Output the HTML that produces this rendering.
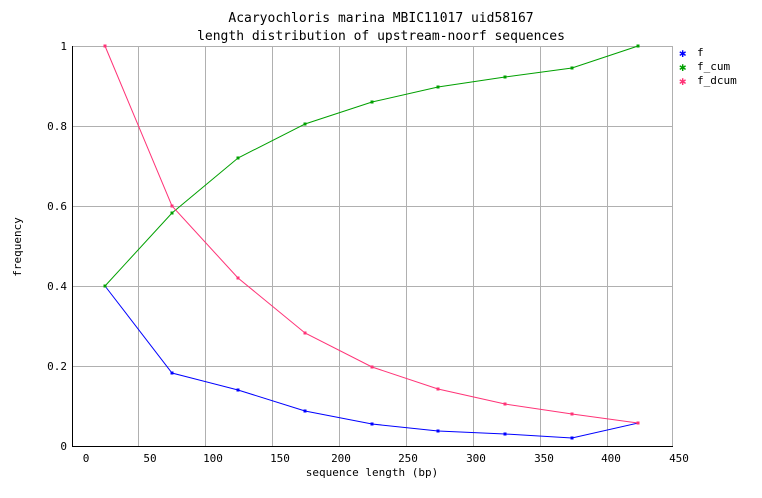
<!DOCTYPE html>
<html><head><style>
html,body{margin:0;padding:0;background:#fff;}
svg{display:block;}
text{font-family:"DejaVu Sans Mono","Liberation Mono",monospace;font-size:11px;fill:#000;}
</style></head><body>
<svg width="762" height="498" viewBox="0 0 762 498" xmlns="http://www.w3.org/2000/svg">
<rect width="762" height="498" fill="#fff"/>
<g stroke="#b0b0b0" stroke-width="1" shape-rendering="crispEdges">
<line x1="73" y1="46.5" x2="672" y2="46.5"/>
<line x1="73" y1="126.5" x2="672" y2="126.5"/>
<line x1="73" y1="206.5" x2="672" y2="206.5"/>
<line x1="73" y1="286.5" x2="672" y2="286.5"/>
<line x1="73" y1="366.5" x2="672" y2="366.5"/>
<line x1="138.5" y1="46" x2="138.5" y2="446"/>
<line x1="205.5" y1="46" x2="205.5" y2="446"/>
<line x1="272.5" y1="46" x2="272.5" y2="446"/>
<line x1="339.5" y1="46" x2="339.5" y2="446"/>
<line x1="406.5" y1="46" x2="406.5" y2="446"/>
<line x1="473.5" y1="46" x2="473.5" y2="446"/>
<line x1="540.5" y1="46" x2="540.5" y2="446"/>
<line x1="607.5" y1="46" x2="607.5" y2="446"/>
<line x1="672.5" y1="46" x2="672.5" y2="446"/>
</g>
<g stroke="#000" stroke-width="1" shape-rendering="crispEdges">
<line x1="72.5" y1="46" x2="72.5" y2="447"/>
<line x1="72" y1="446.5" x2="673" y2="446.5"/>
</g>
<g text-anchor="end">
<text x="67" y="50">1</text><text x="67" y="130">0.8</text><text x="67" y="210">0.6</text>
<text x="67" y="290">0.4</text><text x="67" y="370">0.2</text><text x="67" y="450">0</text>
</g>
<g text-anchor="middle">
<text x="86" y="462">0</text><text x="150" y="462">50</text><text x="213" y="462">100</text>
<text x="280" y="462">150</text><text x="341" y="462">200</text><text x="408" y="462">250</text>
<text x="476" y="462">300</text><text x="544" y="462">350</text><text x="611" y="462">400</text>
<text x="679" y="462">450</text>
<text x="372" y="476">sequence length (bp)</text>
<text x="381" y="22" style="font-size:13px">Acaryochloris marina MBIC11017 uid58167</text>
<text x="381" y="40" style="font-size:13px">length distribution of upstream-noorf sequences</text>
</g>
<text transform="translate(21,247) rotate(-90)" text-anchor="middle">frequency</text>
<g fill="none" stroke-width="1">
<polyline stroke="#0000ff" points="105,286 172,373 238,390 305,411 372,424 438,431 505,434 572,438 638,423"/>
<polyline stroke="#00a000" points="105,286 172,213 238,158 305,124 372,102 438,87 505,77 572,68 638,46"/>
<polyline stroke="#ff3377" points="105,46 172,206 238,278 305,333 372,367 438,389 505,404 572,414 638,423"/>
</g>
<g fill="#0000ff"><rect x="103.5" y="284.5" width="3" height="3"/><rect x="170.5" y="371.5" width="3" height="3"/><rect x="236.5" y="388.5" width="3" height="3"/><rect x="303.5" y="409.5" width="3" height="3"/><rect x="370.5" y="422.5" width="3" height="3"/><rect x="436.5" y="429.5" width="3" height="3"/><rect x="503.5" y="432.5" width="3" height="3"/><rect x="570.5" y="436.5" width="3" height="3"/></g>
<g fill="#00a000"><rect x="103.5" y="284.5" width="3" height="3"/><rect x="170.5" y="211.5" width="3" height="3"/><rect x="236.5" y="156.5" width="3" height="3"/><rect x="303.5" y="122.5" width="3" height="3"/><rect x="370.5" y="100.5" width="3" height="3"/><rect x="436.5" y="85.5" width="3" height="3"/><rect x="503.5" y="75.5" width="3" height="3"/><rect x="570.5" y="66.5" width="3" height="3"/><rect x="636.5" y="44.5" width="3" height="3"/></g>
<g fill="#ff3377"><rect x="103.5" y="44.5" width="3" height="3"/><rect x="170.5" y="204.5" width="3" height="3"/><rect x="236.5" y="276.5" width="3" height="3"/><rect x="303.5" y="331.5" width="3" height="3"/><rect x="370.5" y="365.5" width="3" height="3"/><rect x="436.5" y="387.5" width="3" height="3"/><rect x="503.5" y="402.5" width="3" height="3"/><rect x="570.5" y="412.5" width="3" height="3"/><rect x="636.5" y="421.5" width="3" height="3"/></g>
<text x="679" y="57" style="fill:#0000ff;font-size:12px">✱</text>
<text x="679" y="71" style="fill:#00a000;font-size:12px">✱</text>
<text x="679" y="85" style="fill:#ff3377;font-size:12px">✱</text>
<text x="697" y="56">f</text>
<text x="697" y="70">f_cum</text>
<text x="697" y="84">f_dcum</text>
</svg>
</body></html>
